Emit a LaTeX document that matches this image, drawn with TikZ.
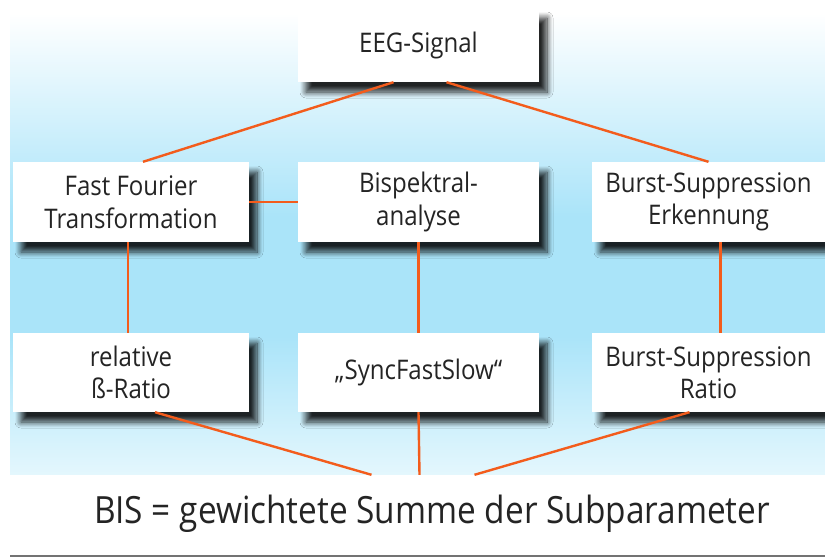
\documentclass[tikz,border=0pt]{standalone}
\usepackage{fontspec}
\setmainfont{Open Sans}[FakeStretch=0.89]
\usetikzlibrary{shadows,shadows.blur}

\definecolor{linkorange}{RGB}{243,92,28}
\definecolor{skyblue}{RGB}{170,228,249}
\definecolor{skypale}{RGB}{228,247,253}
\definecolor{textgrey}{RGB}{36,36,36}

\pgfdeclareverticalshading{sky}{100bp}{color(0bp)=(skypale); color(25bp)=(skypale); color(40bp)=(skyblue); color(53bp)=(skyblue); color(75bp)=(white); color(100bp)=(white)}

\tikzset{
  box/.style={fill=white, align=center, inner sep=0pt, text=textgrey,
    font=\fontsize{27}{32.5}\selectfont,
    blur shadow={shadow xshift=8pt, shadow yshift=-10pt, shadow blur radius=6pt,
      shadow blur steps=10, shadow opacity=85}},
  band/.style={fill=white, inner sep=0pt, minimum width=815pt, minimum height=80pt,
    drop shadow={shadow xshift=0pt, shadow yshift=-2.5pt, fill=black!55, opacity=1}},
  bigtext/.style={text=textgrey, inner sep=0pt, font=\fontsize{37.5}{45}\selectfont},
  link/.style={draw=linkorange, line width=2.4pt},
}

\begin{document}
\begin{tikzpicture}[x=1pt, y=-1pt]
    \useasboundingbox (0,0) rectangle (825,557);
    \fill[white] (0,0) rectangle (825,557);

    % 背景のグラデーション
    \shade[shading=sky] (10,13) rectangle (825,475);

    % 上段
    \node[box, minimum width=241pt, minimum height=74pt] (eeg) at (418.5,45) {EEG-Signal};

    % 中段
    \node[box, minimum width=236pt, minimum height=80pt] (fft) at (131,202) {Fast Fourier\\Transformation};
    \node[box, minimum width=241pt, minimum height=80pt] (bisp) at (418.5,202) {Bispektral-\\analyse};
    \node[box, minimum width=233pt, minimum height=80pt] (burst) at (708.5,202) {Burst-Suppression\\Erkennung};

    % 下段 (サブパラメータ)
    \node[box, minimum width=236pt, minimum height=79pt] (beta) at (131,372.5) {relative\\ß-Ratio};
    \node[box, minimum width=241pt, minimum height=79pt] (sync) at (418.5,372.5) {„SyncFastSlow“};
    \node[box, minimum width=233pt, minimum height=79pt] (bsr) at (708.5,372.5) {Burst-Suppression\\Ratio};

    % 結果の帯
    \node[band] (bis) at (417.5,515) {};
    \node[bigtext] (bistext) at (432,514) {BIS = gewichtete Summe der Subparameter};

    % 接続線
    \draw[link] ([xshift=-25pt]eeg.south) -- ([xshift=12pt]fft.north);
    \draw[link] ([xshift=28pt]eeg.south) -- (burst.north);
    \draw[link] (fft.east) -- (bisp.west);
    \draw[link] ([xshift=-3pt]fft.south) -- ([xshift=-3pt]beta.north);
    \draw[link] (bisp.south) -- (sync.north);
    \draw[link] ([xshift=12pt]burst.south) -- ([xshift=12pt]bsr.north);
    \draw[link] ([xshift=24pt]beta.south) -- ([xshift=-46pt]bis.north);
    \draw[link] (sync.south) -- ([xshift=2pt]bis.north);
    \draw[link] ([xshift=-19pt]bsr.south) -- ([xshift=57pt]bis.north);
\end{tikzpicture}
\end{document}
